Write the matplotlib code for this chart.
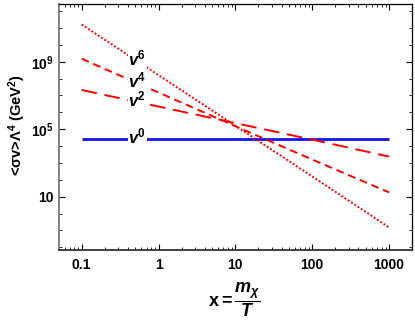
import matplotlib
matplotlib.use("Agg")
import matplotlib.pyplot as plt
from matplotlib.ticker import FixedLocator, NullFormatter
import numpy as np

plt.rcParams['font.family'] = ['Liberation Sans', 'DejaVu Sans']
plt.rcParams['font.weight'] = 'bold'
plt.rcParams['mathtext.fontset'] = 'custom'
plt.rcParams['mathtext.rm'] = 'Liberation Sans:bold'
plt.rcParams['mathtext.it'] = 'Liberation Sans:bold:italic'
plt.rcParams['mathtext.bf'] = 'Liberation Sans:bold'

# data
x_vals = [0.1, 1, 10, 100, 1000]
v0_vals = [2.8e4, 2.8e4, 2.8e4, 2.8e4, 2.8e4]
v2_vals = [2.1e7, 2.2e6, 2.3e5, 2.4e4, 2.4e3]
v4_vals = [1.5e9, 1.5e7, 1.5e5, 1.6e3, 18]
v6_vals = [1.6e11, 1.6e8, 1.6e5, 1.6e2, 0.15]
labels = ["$v^6$", "$v^4$", "$v^2$", "$v^0$"]
label_x = 0.53
xticks = [0.1, 1, 10, 100, 1000]
xticklabels = ["0.1", "1", "10", "100", "1000"]
yticks = [10, 1e5, 1e9]
yticklabels = ["10", "$10^5$", "$10^9$"]

fig = plt.figure(figsize=(4.15, 3.32), dpi=100)
ax = fig.add_axes([59/415, 1-250/332, (411.7-59)/415, (250-4)/332])

ax.plot(x_vals, v0_vals, color='#1414f0', lw=2.0, solid_capstyle='butt')
ax.plot(x_vals, v2_vals, color='#ff0000', lw=1.4, dashes=(8, 4))
ax.plot(x_vals, v4_vals, color='#ff0000', lw=1.4, dashes=(4, 2.5))
ax.plot(x_vals, v6_vals, color='#ff0000', lw=1.4, dashes=(1, 1))

ax.set_xscale('log')
ax.set_yscale('log')
ax.set_xlim(0.0507, 1973)
ax.set_ylim(10**-2.16, 10**12.42)

series = [v6_vals, v4_vals, v2_vals, v0_vals]
for lab, vals in zip(labels, series):
    yv = np.interp(np.log10(label_x), np.log10(x_vals), np.log10(vals))
    ax.text(label_x, 10**yv * 1.4, lab, ha='center', va='center', fontsize=12,
            bbox=dict(facecolor='white', edgecolor='none', pad=0.3), zorder=5)

ax.xaxis.set_major_locator(FixedLocator(xticks))
ax.set_xticklabels(xticklabels)
minors = [m * 10.0**e for e in range(-2, 4) for m in range(2, 10)]
ax.xaxis.set_minor_locator(FixedLocator(minors))
ax.xaxis.set_minor_formatter(NullFormatter())
ax.yaxis.set_major_locator(FixedLocator(yticks))
ax.set_yticklabels(yticklabels)
ax.yaxis.set_minor_locator(FixedLocator([10.0**e for e in range(-2, 13)]))
ax.yaxis.set_minor_formatter(NullFormatter())

ax.tick_params(which='both', direction='in', top=True, right=True, labelsize=10)
ax.tick_params(which='major', length=4.5, width=0.8)
ax.tick_params(axis='x', which='major', pad=6)
ax.tick_params(axis='y', which='major', pad=4)
ax.tick_params(which='minor', length=2.5, width=0.6)
for lab in ax.get_xticklabels() + ax.get_yticklabels():
    lab.set_fontweight('bold')

ax.spines['left'].set_color('#777777')
ax.spines['left'].set_linewidth(1.3)
ax.spines['bottom'].set_color('#333333')
ax.spines['bottom'].set_linewidth(1.3)
ax.spines['top'].set_linewidth(0.9)
ax.spines['right'].set_linewidth(0.9)

fig.text(17/415, 1-125/332, r"<σv>Λ$^4$ (GeV$^2$)", rotation=90, ha='center', va='center',
         fontsize=10.5, fontweight='bold')
fig.text(234/415, 1-300/332, r"$\mathrm{x=}\dfrac{m_{\chi}}{T}$", ha='center', va='center',
         fontsize=13)

fig.savefig("out.png", dpi=100)
